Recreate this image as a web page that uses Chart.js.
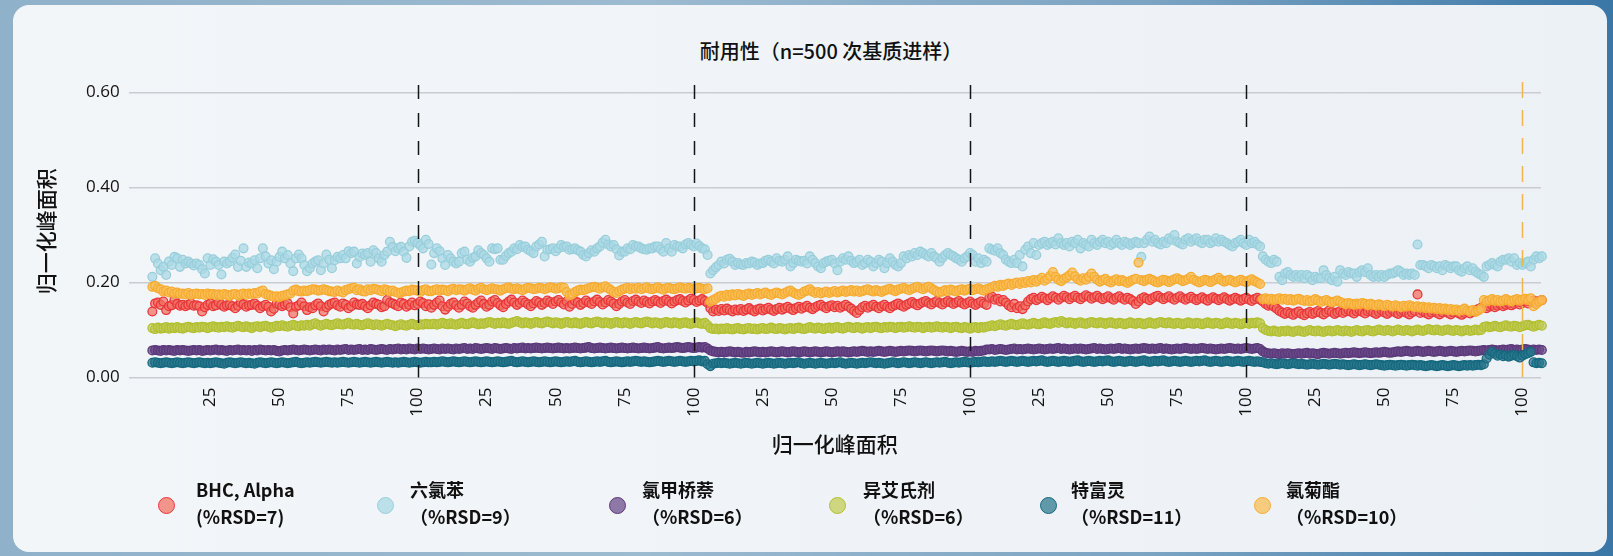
<!DOCTYPE html>
<html><head><meta charset="utf-8">
<script src="https://cdn.jsdelivr.net/npm/chart.js@4/dist/chart.umd.min.js"></script>
<style>
html,body{margin:0;padding:0;width:1613px;height:556px;overflow:hidden;}
body{position:relative;background:linear-gradient(90deg,#8fb1c9 0%,#9cbad0 40%,#7aa3c2 72%,#3a76a6 100%);font-family:"Noto Sans CJK SC","Noto Sans",sans-serif;}
#card{position:absolute;left:13px;top:5px;width:1594px;height:547px;border-radius:16px;background:linear-gradient(90deg,#f3f6f9 0%,#eff3f7 60%,#ecf1f6 100%);}
#title{position:absolute;left:581px;width:500px;top:37px;text-align:center;font-size:20px;font-weight:500;color:#111;line-height:28px;}
canvas{position:absolute;left:0;top:0;}
.lg{position:absolute;top:476px;color:#111;font-size:18px;font-weight:600;line-height:27px;white-space:nowrap;}
.dot{position:absolute;width:15px;height:15px;border-radius:50%;border:1.8px solid;top:497px;}
</style></head>
<body>
<div id="card"></div>
<div id="title">耐用性（n=500 次基质进样）</div>
<canvas id="c" width="1613" height="556"></canvas>
<div id="legend"></div>
<script>
const FIRST_INJECTION = 4;
const xTickValues = [25,50,75,100,125,150,175,200,225,250,275,300,325,350,375,400,425,450,475,500];
const xTickLabels = ['25','50','75','100','25','50','75','100','25','50','75','100','25','50','75','100','25','50','75','100'];
const yTickValues = [0,0.2,0.4,0.6];
const blockDividers = [100,200,300,400];
const endMarker = [500];
const seriesNames = ['BHC, Alpha','六氯苯','氯甲桥萘','异艾氏剂','特富灵','氯菊酯'];
const rsdLabels = ['(%RSD=7)','（%RSD=9）','（%RSD=6）','（%RSD=6）','（%RSD=11）','（%RSD=10）'];

const bhcAlpha = [
0.139,0.156,0.158,0.153,0.160,0.142,0.150,0.152,0.163,0.155,
0.151,0.153,0.150,0.153,0.156,0.151,0.152,0.150,0.139,0.148,
0.153,0.156,0.150,0.152,0.158,0.153,0.149,0.152,0.153,0.150,
0.146,0.151,0.158,0.154,0.149,0.152,0.153,0.156,0.151,0.146,
0.150,0.153,0.149,0.139,0.145,0.156,0.153,0.150,0.153,0.156,
0.148,0.135,0.149,0.152,0.158,0.150,0.142,0.148,0.146,0.152,
0.156,0.150,0.139,0.148,0.153,0.156,0.158,0.152,0.149,0.156,
0.153,0.146,0.150,0.158,0.154,0.153,0.155,0.150,0.146,0.152,
0.158,0.155,0.153,0.148,0.150,0.163,0.158,0.156,0.153,0.150,
0.158,0.155,0.149,0.153,0.158,0.152,0.155,0.160,0.157,0.150,
0.154,
0.147,0.153,0.158,0.162,0.150,0.143,0.149,0.155,0.158,0.152,
0.147,0.153,0.160,0.156,0.150,0.147,0.153,0.158,0.162,0.155,
0.149,0.153,0.160,0.163,0.157,0.152,0.148,0.155,0.160,0.164,
0.158,0.153,0.157,0.162,0.158,0.154,0.150,0.156,0.161,0.158,
0.153,0.157,0.162,0.159,0.155,0.160,0.163,0.158,0.154,0.160,
0.149,0.155,0.161,0.158,0.153,0.157,0.162,0.158,0.155,0.160,
0.164,0.159,0.154,0.158,0.163,0.160,0.156,0.150,0.155,0.160,
0.163,0.158,0.155,0.161,0.164,0.160,0.157,0.162,0.159,0.156,
0.160,0.163,0.160,0.157,0.161,0.164,0.160,0.156,0.160,0.163,
0.165,0.161,0.158,0.162,0.166,0.163,0.159,0.162,0.165,0.161,
0.157,
0.146,0.139,0.143,0.140,0.144,0.141,0.145,0.142,0.139,0.143,
0.141,0.144,0.140,0.143,0.146,0.142,0.139,0.143,0.145,0.141,
0.144,0.147,0.143,0.140,0.144,0.147,0.143,0.146,0.149,0.145,
0.142,0.146,0.149,0.145,0.148,0.151,0.147,0.144,0.148,0.151,
0.153,0.149,0.146,0.150,0.152,0.148,0.151,0.147,0.150,0.153,
0.149,0.145,0.140,0.136,0.142,0.148,0.151,0.147,0.150,0.153,
0.149,0.146,0.150,0.153,0.149,0.146,0.150,0.153,0.156,0.152,
0.149,0.153,0.156,0.159,0.155,0.152,0.156,0.159,0.161,0.157,
0.154,0.158,0.161,0.157,0.154,0.158,0.161,0.158,0.155,0.158,
0.161,0.157,0.154,0.157,0.160,0.156,0.153,0.157,0.160,0.156,
0.153,
0.168,0.170,0.164,0.166,0.160,0.163,0.158,0.152,0.148,0.155,
0.146,0.150,0.144,0.152,0.160,0.165,0.168,0.163,0.166,0.170,
0.167,0.163,0.167,0.171,0.168,0.164,0.168,0.172,0.169,0.165,
0.169,0.172,0.168,0.165,0.169,0.173,0.170,0.166,0.169,0.172,
0.168,0.165,0.168,0.171,0.167,0.164,0.168,0.171,0.167,0.164,
0.168,0.165,0.161,0.155,0.160,0.166,0.169,0.166,0.163,0.167,
0.170,0.172,0.168,0.165,0.168,0.171,0.167,0.164,0.168,0.171,
0.167,0.164,0.167,0.170,0.166,0.163,0.166,0.169,0.165,0.162,
0.166,0.169,0.166,0.163,0.166,0.169,0.165,0.162,0.165,0.168,
0.165,0.162,0.165,0.168,0.164,0.161,0.165,0.168,0.164,
0.160,0.155,0.151,0.153,0.149,0.145,0.140,0.137,0.134,0.138,
0.135,0.132,0.136,0.139,0.134,0.131,0.135,0.138,0.134,0.137,
0.140,0.136,0.133,0.137,0.141,0.138,0.134,0.137,0.140,0.136,
0.139,0.142,0.138,0.135,0.139,0.142,0.138,0.135,0.139,0.141,
0.137,0.134,0.138,0.141,0.137,0.134,0.138,0.141,0.137,0.134,
0.138,0.140,0.136,0.133,0.137,0.140,0.175,0.136,0.139,0.136,
0.133,0.137,0.140,0.136,0.133,0.137,0.140,0.136,0.133,0.137,
0.139,0.135,0.132,0.136,0.139,0.135,0.138,0.141,0.144,0.147,
0.150,0.146,0.149,0.152,0.148,0.151,0.154,0.150,0.153,0.156,
0.152,0.155,0.158,0.154,0.157,0.160,0.156,0.159,0.162,0.158,
0.161,0.163,0.160
];

const hexachlorobenzene = [
0.212,0.251,0.240,0.226,0.233,0.216,0.244,0.237,0.254,0.251,
0.233,0.248,0.240,0.244,0.240,0.236,0.240,0.237,0.228,0.219,
0.251,0.237,0.249,0.244,0.237,0.217,0.244,0.240,0.244,0.252,
0.259,0.233,0.246,0.272,0.233,0.242,0.240,0.247,0.230,0.251,
0.272,0.255,0.240,0.247,0.228,0.244,0.254,0.265,0.251,0.258,
0.240,0.224,0.251,0.259,0.251,0.237,0.224,0.230,0.240,0.244,
0.247,0.226,0.240,0.259,0.248,0.230,0.247,0.254,0.251,0.258,
0.251,0.266,0.262,0.265,0.240,0.254,0.261,0.258,0.262,0.244,
0.268,0.262,0.251,0.244,0.258,0.265,0.286,0.275,0.266,0.272,
0.275,0.265,0.252,0.276,0.286,0.288,0.283,0.278,0.272,0.290,
0.281,
0.238,0.262,0.272,0.266,0.251,0.237,0.258,0.251,0.244,0.240,
0.244,0.262,0.265,0.248,0.244,0.252,0.255,0.268,0.262,0.258,
0.251,0.244,0.272,0.270,0.272,0.248,0.248,0.256,0.262,0.265,
0.272,0.270,0.279,0.275,0.276,0.269,0.266,0.262,0.276,0.280,
0.286,0.255,0.269,0.270,0.272,0.266,0.272,0.279,0.275,0.276,
0.269,0.270,0.272,0.268,0.265,0.258,0.255,0.262,0.268,0.265,
0.272,0.276,0.284,0.290,0.280,0.276,0.279,0.270,0.257,0.265,
0.265,0.272,0.270,0.279,0.276,0.276,0.272,0.270,0.269,0.272,
0.272,0.276,0.276,0.270,0.265,0.283,0.272,0.265,0.279,0.276,
0.276,0.272,0.280,0.283,0.279,0.276,0.282,0.277,0.272,0.270,
0.258,
0.219,0.226,0.232,0.237,0.244,0.240,0.248,0.250,0.244,0.237,
0.241,0.238,0.237,0.241,0.240,0.244,0.242,0.237,0.240,0.241,
0.246,0.248,0.244,0.240,0.251,0.246,0.244,0.248,0.255,0.234,
0.241,0.248,0.246,0.244,0.246,0.240,0.255,0.248,0.241,0.234,
0.230,0.241,0.244,0.246,0.248,0.240,0.226,0.244,0.251,0.248,
0.255,0.246,0.241,0.244,0.248,0.237,0.241,0.248,0.244,0.234,
0.241,0.248,0.244,0.230,0.241,0.251,0.244,0.237,0.234,0.241,
0.255,0.251,0.258,0.255,0.262,0.258,0.265,0.262,0.258,0.255,
0.262,0.255,0.251,0.244,0.252,0.258,0.262,0.258,0.255,0.251,
0.248,0.244,0.251,0.255,0.262,0.258,0.244,0.251,0.241,0.248,
0.244,
0.272,0.269,0.267,0.272,0.262,0.258,0.248,0.244,0.241,0.248,
0.241,0.258,0.234,0.269,0.276,0.262,0.283,0.258,0.279,0.283,
0.286,0.279,0.283,0.286,0.280,0.293,0.283,0.279,0.283,0.276,
0.286,0.283,0.290,0.272,0.283,0.279,0.276,0.290,0.283,0.279,
0.286,0.290,0.283,0.286,0.279,0.283,0.290,0.283,0.279,0.286,
0.283,0.279,0.283,0.286,0.283,0.254,0.283,0.290,0.297,0.286,
0.290,0.283,0.280,0.286,0.283,0.293,0.290,0.300,0.286,0.283,
0.280,0.290,0.293,0.286,0.290,0.293,0.286,0.283,0.290,0.290,
0.283,0.286,0.293,0.286,0.290,0.286,0.283,0.279,0.276,0.283,
0.286,0.290,0.283,0.279,0.290,0.283,0.286,0.280,0.276,
0.255,0.248,0.244,0.241,0.248,0.244,0.212,0.205,0.219,0.222,
0.216,0.212,0.216,0.212,0.216,0.209,0.216,0.212,0.205,0.212,
0.209,0.209,0.226,0.216,0.209,0.205,0.212,0.202,0.226,0.219,
0.216,0.222,0.219,0.219,0.212,0.222,0.226,0.222,0.230,0.216,
0.212,0.216,0.212,0.216,0.212,0.216,0.219,0.219,0.222,0.226,
0.222,0.216,0.219,0.216,0.219,0.216,0.280,0.237,0.237,0.234,
0.230,0.237,0.234,0.230,0.234,0.226,0.237,0.234,0.230,0.234,
0.234,0.226,0.223,0.230,0.234,0.226,0.230,0.223,0.219,0.216,
0.212,0.234,0.237,0.241,0.237,0.234,0.244,0.248,0.248,0.251,
0.244,0.251,0.237,0.241,0.237,0.241,0.244,0.234,0.248,0.255,
0.251,0.255,0.258
];

const heptachlor = [
0.057,0.058,0.057,0.056,0.058,0.057,0.058,0.057,0.056,0.058,
0.057,0.058,0.057,0.056,0.057,0.058,0.057,0.058,0.056,0.057,
0.058,0.057,0.058,0.059,0.057,0.058,0.057,0.056,0.058,0.057,
0.058,0.059,0.057,0.058,0.057,0.058,0.056,0.058,0.057,0.059,
0.058,0.057,0.058,0.057,0.058,0.056,0.055,0.057,0.058,0.057,
0.058,0.059,0.058,0.057,0.058,0.059,0.058,0.057,0.058,0.059,
0.058,0.057,0.059,0.058,0.059,0.058,0.057,0.059,0.058,0.059,
0.060,0.058,0.059,0.058,0.059,0.060,0.058,0.059,0.058,0.060,
0.059,0.058,0.059,0.060,0.059,0.058,0.060,0.059,0.060,0.061,
0.059,0.060,0.059,0.061,0.060,0.059,0.061,0.060,0.061,0.060,
0.059,
0.060,0.061,0.060,0.059,0.061,0.060,0.061,0.060,0.059,0.061,
0.060,0.061,0.062,0.060,0.061,0.060,0.062,0.061,0.060,0.061,
0.062,0.061,0.060,0.062,0.061,0.060,0.061,0.062,0.061,0.060,
0.062,0.061,0.062,0.063,0.061,0.062,0.061,0.062,0.063,0.062,
0.061,0.062,0.063,0.062,0.061,0.062,0.063,0.062,0.061,0.062,
0.061,0.062,0.063,0.062,0.061,0.062,0.063,0.064,0.062,0.061,
0.062,0.063,0.062,0.061,0.062,0.063,0.062,0.061,0.062,0.063,
0.062,0.061,0.062,0.063,0.062,0.061,0.062,0.063,0.062,0.061,
0.062,0.063,0.064,0.062,0.061,0.062,0.063,0.062,0.063,0.064,
0.063,0.062,0.063,0.064,0.063,0.062,0.063,0.064,0.063,0.064,
0.061,
0.057,0.055,0.054,0.053,0.054,0.053,0.054,0.055,0.054,0.053,
0.054,0.053,0.052,0.054,0.053,0.054,0.055,0.054,0.053,0.054,
0.053,0.054,0.055,0.054,0.053,0.054,0.055,0.054,0.053,0.054,
0.055,0.054,0.053,0.054,0.055,0.054,0.053,0.054,0.055,0.054,
0.053,0.054,0.055,0.054,0.053,0.054,0.055,0.054,0.055,0.054,
0.053,0.054,0.055,0.054,0.055,0.056,0.055,0.054,0.055,0.054,
0.055,0.056,0.055,0.054,0.055,0.056,0.055,0.054,0.055,0.056,
0.055,0.056,0.057,0.056,0.055,0.056,0.057,0.056,0.055,0.056,
0.057,0.056,0.055,0.056,0.057,0.056,0.055,0.056,0.055,0.054,
0.055,0.056,0.055,0.054,0.055,0.054,0.056,0.055,0.056,0.057,
0.059,
0.059,0.060,0.058,0.059,0.060,0.059,0.058,0.059,0.060,0.061,
0.059,0.060,0.059,0.060,0.061,0.060,0.059,0.060,0.061,0.060,
0.059,0.060,0.061,0.060,0.061,0.062,0.060,0.061,0.060,0.059,
0.060,0.061,0.060,0.061,0.060,0.059,0.060,0.061,0.062,0.060,
0.061,0.060,0.059,0.060,0.061,0.060,0.061,0.062,0.060,0.061,
0.060,0.059,0.060,0.061,0.060,0.061,0.062,0.061,0.060,0.061,
0.060,0.061,0.062,0.060,0.061,0.060,0.059,0.060,0.061,0.060,
0.061,0.062,0.061,0.060,0.061,0.060,0.061,0.062,0.061,0.060,
0.061,0.060,0.059,0.060,0.061,0.060,0.061,0.062,0.061,0.060,
0.061,0.060,0.061,0.062,0.061,0.060,0.061,0.062,0.060,
0.055,0.052,0.051,0.050,0.051,0.050,0.049,0.051,0.050,0.051,
0.050,0.049,0.050,0.051,0.050,0.051,0.052,0.050,0.051,0.050,
0.049,0.051,0.052,0.051,0.050,0.051,0.052,0.051,0.050,0.051,
0.052,0.051,0.052,0.053,0.052,0.051,0.052,0.053,0.052,0.051,
0.052,0.053,0.052,0.053,0.054,0.053,0.052,0.053,0.054,0.055,
0.054,0.055,0.056,0.055,0.054,0.055,0.056,0.055,0.054,0.055,
0.056,0.055,0.054,0.055,0.056,0.055,0.054,0.055,0.056,0.055,
0.054,0.055,0.056,0.055,0.056,0.057,0.056,0.055,0.056,0.057,
0.058,0.057,0.058,0.059,0.058,0.057,0.058,0.059,0.058,0.059,
0.060,0.058,0.059,0.058,0.059,0.060,0.059,0.058,0.059,0.058,
0.059,0.058,0.057
];

const isodrin = [
0.104,0.102,0.105,0.103,0.104,0.106,0.103,0.105,0.104,0.106,
0.104,0.103,0.105,0.107,0.105,0.104,0.106,0.105,0.107,0.106,
0.104,0.106,0.108,0.106,0.105,0.107,0.106,0.108,0.106,0.105,
0.107,0.109,0.107,0.106,0.108,0.106,0.104,0.107,0.108,0.106,
0.108,0.109,0.107,0.105,0.107,0.109,0.108,0.110,0.108,0.107,
0.109,0.111,0.109,0.108,0.110,0.109,0.111,0.109,0.112,0.114,
0.111,0.109,0.111,0.113,0.111,0.110,0.112,0.114,0.112,0.111,
0.113,0.115,0.112,0.111,0.113,0.111,0.110,0.112,0.114,0.112,
0.110,0.112,0.111,0.109,0.111,0.113,0.111,0.110,0.108,0.110,
0.112,0.110,0.109,0.111,0.113,0.111,0.110,0.112,0.111,0.113,
0.112,
0.112,0.113,0.111,0.113,0.115,0.113,0.112,0.114,0.112,0.111,
0.113,0.115,0.113,0.112,0.114,0.116,0.114,0.112,0.114,0.113,
0.115,0.117,0.115,0.113,0.115,0.114,0.116,0.114,0.113,0.115,
0.117,0.119,0.116,0.114,0.116,0.115,0.113,0.115,0.117,0.115,
0.114,0.116,0.118,0.116,0.114,0.116,0.115,0.113,0.115,0.117,
0.115,0.114,0.116,0.114,0.113,0.115,0.117,0.115,0.114,0.116,
0.118,0.116,0.114,0.116,0.115,0.113,0.115,0.117,0.115,0.114,
0.116,0.115,0.113,0.115,0.117,0.115,0.114,0.116,0.118,0.116,
0.114,0.116,0.115,0.113,0.115,0.117,0.115,0.114,0.116,0.115,
0.113,0.115,0.116,0.114,0.113,0.115,0.116,0.114,0.113,0.115,
0.110,
0.104,0.102,0.103,0.101,0.103,0.102,0.104,0.102,0.101,0.103,
0.104,0.102,0.101,0.103,0.104,0.102,0.103,0.101,0.103,0.104,
0.102,0.103,0.105,0.103,0.102,0.104,0.103,0.101,0.103,0.104,
0.102,0.104,0.105,0.103,0.102,0.104,0.106,0.104,0.103,0.105,
0.104,0.102,0.104,0.105,0.103,0.105,0.106,0.104,0.103,0.105,
0.107,0.105,0.104,0.106,0.105,0.103,0.105,0.106,0.104,0.106,
0.107,0.105,0.104,0.106,0.105,0.107,0.106,0.104,0.106,0.107,
0.105,0.106,0.108,0.106,0.105,0.107,0.106,0.104,0.106,0.107,
0.105,0.106,0.108,0.106,0.105,0.107,0.106,0.104,0.106,0.107,
0.105,0.104,0.106,0.105,0.103,0.105,0.106,0.104,0.106,0.105,
0.107,
0.108,0.110,0.108,0.110,0.112,0.110,0.109,0.111,0.113,0.111,
0.110,0.112,0.114,0.112,0.111,0.113,0.115,0.113,0.112,0.114,
0.116,0.114,0.113,0.115,0.117,0.115,0.119,0.116,0.114,0.116,
0.115,0.113,0.115,0.116,0.114,0.113,0.115,0.117,0.115,0.114,
0.116,0.115,0.113,0.115,0.116,0.114,0.113,0.115,0.114,0.112,
0.114,0.116,0.114,0.113,0.115,0.114,0.112,0.114,0.116,0.114,
0.113,0.115,0.117,0.115,0.114,0.116,0.114,0.113,0.115,0.114,
0.112,0.114,0.116,0.114,0.113,0.115,0.114,0.112,0.114,0.116,
0.114,0.113,0.115,0.114,0.112,0.114,0.116,0.114,0.113,0.115,
0.114,0.112,0.114,0.115,0.113,0.115,0.114,0.116,0.114,
0.104,0.100,0.098,0.097,0.099,0.097,0.096,0.098,0.097,0.099,
0.097,0.096,0.098,0.099,0.097,0.096,0.098,0.100,0.098,0.097,
0.099,0.097,0.096,0.098,0.099,0.097,0.098,0.100,0.098,0.097,
0.099,0.098,0.096,0.098,0.100,0.098,0.097,0.099,0.100,0.098,
0.097,0.099,0.101,0.099,0.098,0.100,0.099,0.097,0.099,0.101,
0.099,0.098,0.100,0.099,0.097,0.099,0.101,0.099,0.098,0.100,
0.102,0.100,0.099,0.101,0.099,0.098,0.100,0.101,0.099,0.098,
0.100,0.099,0.097,0.099,0.100,0.098,0.099,0.101,0.099,0.100,
0.106,0.108,0.106,0.107,0.109,0.107,0.106,0.108,0.110,0.108,
0.107,0.109,0.108,0.106,0.108,0.110,0.111,0.109,0.107,0.109,
0.111,0.109,0.108
];

const triflumizole = [
0.031,0.032,0.031,0.030,0.031,0.032,0.031,0.030,0.031,0.032,
0.031,0.030,0.031,0.032,0.031,0.030,0.031,0.032,0.031,0.030,
0.031,0.030,0.031,0.032,0.031,0.030,0.029,0.031,0.032,0.031,
0.030,0.031,0.032,0.031,0.030,0.031,0.030,0.029,0.031,0.032,
0.031,0.030,0.031,0.032,0.031,0.030,0.031,0.032,0.031,0.030,
0.031,0.032,0.033,0.031,0.030,0.031,0.032,0.031,0.032,0.033,
0.032,0.031,0.032,0.033,0.032,0.031,0.032,0.031,0.032,0.033,
0.032,0.031,0.032,0.033,0.032,0.031,0.032,0.033,0.032,0.031,
0.032,0.033,0.032,0.031,0.032,0.033,0.032,0.031,0.032,0.031,
0.032,0.033,0.032,0.031,0.032,0.033,0.032,0.031,0.032,0.033,
0.032,
0.032,0.033,0.032,0.033,0.034,0.033,0.032,0.033,0.034,0.033,
0.032,0.033,0.034,0.033,0.032,0.033,0.034,0.033,0.032,0.033,
0.034,0.033,0.032,0.033,0.034,0.033,0.032,0.033,0.034,0.035,
0.033,0.032,0.033,0.034,0.033,0.032,0.033,0.034,0.033,0.032,
0.033,0.034,0.033,0.032,0.033,0.034,0.033,0.032,0.033,0.034,
0.033,0.034,0.035,0.033,0.032,0.033,0.034,0.033,0.032,0.033,
0.034,0.033,0.034,0.035,0.033,0.032,0.033,0.034,0.033,0.032,
0.033,0.034,0.033,0.034,0.035,0.034,0.033,0.034,0.033,0.032,
0.033,0.034,0.035,0.034,0.033,0.034,0.035,0.034,0.033,0.034,
0.035,0.034,0.033,0.034,0.035,0.034,0.035,0.036,0.034,0.035,
0.028,
0.024,0.029,0.030,0.031,0.030,0.031,0.030,0.029,0.030,0.031,
0.030,0.029,0.030,0.031,0.030,0.029,0.030,0.031,0.030,0.029,
0.030,0.031,0.030,0.029,0.030,0.031,0.030,0.029,0.030,0.031,
0.030,0.031,0.032,0.030,0.029,0.030,0.031,0.030,0.029,0.030,
0.031,0.030,0.029,0.030,0.031,0.030,0.031,0.032,0.030,0.029,
0.030,0.031,0.030,0.029,0.030,0.031,0.030,0.031,0.032,0.031,
0.030,0.031,0.030,0.029,0.030,0.031,0.032,0.031,0.030,0.031,
0.032,0.031,0.030,0.031,0.032,0.031,0.030,0.031,0.032,0.031,
0.030,0.031,0.032,0.031,0.032,0.033,0.031,0.030,0.031,0.032,
0.031,0.032,0.033,0.032,0.031,0.032,0.033,0.032,0.033,0.034,
0.033,
0.033,0.034,0.033,0.034,0.035,0.034,0.033,0.034,0.035,0.034,
0.033,0.034,0.035,0.034,0.033,0.034,0.035,0.034,0.035,0.036,
0.034,0.033,0.034,0.035,0.034,0.033,0.034,0.035,0.034,0.033,
0.034,0.035,0.036,0.034,0.033,0.034,0.035,0.034,0.033,0.034,
0.035,0.034,0.035,0.036,0.034,0.033,0.034,0.035,0.034,0.033,
0.034,0.035,0.034,0.033,0.034,0.035,0.036,0.034,0.033,0.034,
0.035,0.034,0.035,0.036,0.034,0.033,0.034,0.035,0.034,0.033,
0.034,0.035,0.034,0.033,0.034,0.035,0.034,0.035,0.036,0.034,
0.033,0.034,0.035,0.034,0.033,0.034,0.035,0.034,0.033,0.034,
0.035,0.034,0.033,0.034,0.035,0.034,0.033,0.034,0.033,
0.032,0.030,0.029,0.030,0.029,0.028,0.029,0.030,0.029,0.028,
0.029,0.030,0.029,0.028,0.029,0.028,0.027,0.028,0.029,0.028,
0.027,0.028,0.029,0.028,0.027,0.028,0.029,0.028,0.027,0.028,
0.027,0.026,0.027,0.028,0.027,0.026,0.027,0.028,0.027,0.026,
0.027,0.028,0.027,0.026,0.025,0.026,0.027,0.026,0.025,0.026,
0.027,0.026,0.025,0.026,0.027,0.026,0.025,0.026,0.025,0.024,
0.025,0.026,0.025,0.024,0.025,0.026,0.025,0.024,0.025,0.026,
0.025,0.024,0.025,0.026,0.025,0.026,0.025,0.026,0.027,0.026,
0.028,0.040,0.048,0.054,0.050,0.046,0.048,0.045,0.047,0.044,
0.046,0.048,0.045,0.042,0.046,0.049,0.051,0.054,0.032,0.030,
0.031,0.030,0.031
];

const permethrin = [
0.191,0.193,0.188,0.186,0.181,0.183,0.179,0.181,0.177,0.179,
0.176,0.177,0.175,0.178,0.174,0.176,0.177,0.175,0.176,0.174,
0.177,0.175,0.176,0.174,0.175,0.173,0.176,0.174,0.172,0.175,
0.176,0.173,0.175,0.177,0.174,0.177,0.176,0.178,0.177,0.181,
0.183,0.176,0.174,0.172,0.170,0.171,0.169,0.172,0.173,0.175,
0.177,0.183,0.185,0.182,0.181,0.183,0.182,0.184,0.186,0.185,
0.183,0.184,0.186,0.184,0.182,0.181,0.180,0.183,0.181,0.179,
0.184,0.186,0.188,0.189,0.184,0.186,0.182,0.181,0.186,0.184,
0.187,0.186,0.184,0.182,0.186,0.184,0.181,0.183,0.180,0.178,
0.179,0.181,0.183,0.182,0.185,0.184,0.183,0.180,0.184,0.186,
0.182,
0.182,0.184,0.186,0.183,0.185,0.184,0.182,0.185,0.187,0.184,
0.186,0.185,0.183,0.186,0.188,0.185,0.183,0.187,0.189,0.186,
0.184,0.186,0.188,0.186,0.185,0.183,0.186,0.188,0.190,0.187,
0.186,0.188,0.186,0.184,0.187,0.189,0.188,0.186,0.187,0.189,
0.188,0.186,0.188,0.190,0.189,0.187,0.188,0.190,0.189,0.180,
0.173,0.176,0.180,0.183,0.185,0.184,0.186,0.188,0.190,0.191,
0.189,0.187,0.190,0.192,0.188,0.184,0.180,0.178,0.182,0.185,
0.187,0.189,0.186,0.188,0.187,0.189,0.186,0.188,0.190,0.187,
0.186,0.188,0.190,0.187,0.185,0.188,0.189,0.187,0.186,0.188,
0.190,0.188,0.187,0.189,0.188,0.186,0.188,0.189,0.187,0.186,
0.188,
0.160,0.163,0.166,0.170,0.172,0.170,0.174,0.172,0.175,0.173,
0.176,0.174,0.172,0.175,0.177,0.174,0.176,0.178,0.175,0.177,
0.179,0.176,0.174,0.177,0.179,0.177,0.175,0.178,0.181,0.183,
0.179,0.176,0.174,0.177,0.181,0.183,0.186,0.181,0.178,0.180,
0.177,0.179,0.181,0.178,0.180,0.182,0.179,0.181,0.183,0.180,
0.182,0.184,0.181,0.183,0.180,0.182,0.184,0.186,0.183,0.181,
0.184,0.182,0.180,0.183,0.185,0.187,0.184,0.182,0.185,0.187,
0.189,0.186,0.184,0.187,0.189,0.191,0.188,0.186,0.189,0.191,
0.188,0.184,0.181,0.179,0.181,0.184,0.182,0.185,0.183,0.181,
0.184,0.186,0.183,0.185,0.187,0.184,0.186,0.188,0.185,0.183,
0.186,
0.188,0.190,0.193,0.191,0.195,0.193,0.196,0.198,0.195,0.198,
0.200,0.197,0.201,0.199,0.203,0.200,0.205,0.202,0.206,0.210,
0.204,0.208,0.214,0.222,0.212,0.206,0.203,0.208,0.211,0.215,
0.221,0.213,0.207,0.204,0.209,0.206,0.212,0.219,0.212,0.206,
0.202,0.205,0.208,0.203,0.200,0.204,0.207,0.203,0.205,0.202,
0.199,0.203,0.206,0.208,0.242,0.205,0.203,0.206,0.208,0.205,
0.202,0.200,0.203,0.206,0.204,0.201,0.204,0.207,0.209,0.206,
0.203,0.205,0.208,0.212,0.206,0.203,0.200,0.203,0.206,0.204,
0.201,0.204,0.207,0.210,0.205,0.202,0.204,0.206,0.203,0.200,
0.203,0.206,0.203,0.201,0.204,0.207,0.203,0.200,0.197,
0.165,0.167,0.164,0.166,0.163,0.165,0.167,0.164,0.166,0.163,
0.165,0.162,0.164,0.166,0.163,0.161,0.163,0.160,0.162,0.165,
0.162,0.159,0.161,0.163,0.160,0.158,0.160,0.162,0.159,0.157,
0.154,0.157,0.155,0.153,0.156,0.154,0.157,0.155,0.152,0.155,
0.153,0.151,0.154,0.152,0.150,0.153,0.151,0.149,0.152,0.150,
0.148,0.151,0.149,0.152,0.150,0.148,0.150,0.147,0.149,0.146,
0.148,0.145,0.147,0.144,0.146,0.143,0.145,0.142,0.144,0.141,
0.143,0.140,0.142,0.145,0.141,0.139,0.142,0.138,0.141,0.145,
0.163,0.160,0.162,0.165,0.161,0.163,0.160,0.162,0.165,0.162,
0.160,0.163,0.165,0.162,0.164,0.166,0.163,0.167,0.150,0.155,
0.160,0.163,0.168
];

const seriesValues = [bhcAlpha, hexachlorobenzene, heptachlor, isodrin, triflumizole, permethrin];
const seriesBorder = ['#e8353a','#98cedb','#5a3879','#b1bf30','#15687e','#f6ab30'];
const seriesFill = ['rgba(242,110,95,0.72)','rgba(170,216,228,0.75)','rgba(104,72,136,0.72)','rgba(192,203,82,0.72)','rgba(40,118,140,0.72)','rgba(250,190,85,0.75)'];
const drawOrder = [6,5,4,3,2,1];

Chart.defaults.font.family = "'Open Sans','Noto Sans CJK SC',sans-serif";
Chart.defaults.color = '#111';

const datasets = seriesValues.map((vals, k) => ({
  label: seriesNames[k],
  data: vals.map((v, i) => ({x: FIRST_INJECTION + i, y: v})),
  backgroundColor: seriesFill[k],
  borderColor: seriesBorder[k],
  borderWidth: 1.3,
  pointRadius: 4.4,
  order: drawOrder[k],
  clip: false
}));

const dividerPlugin = {
  id: 'dividers',
  afterDatasetsDraw(chart) {
    const {ctx, chartArea, scales} = chart;
    const x = scales.x, y = scales.y;
    const top = chartArea.top, bottom = y.getPixelForValue(0);
    ctx.save();
    ctx.lineWidth = 1.5;
    ctx.strokeStyle = '#151515';
    ctx.setLineDash([14, 14]);
    blockDividers.forEach(v => {
      const px = Math.round(x.getPixelForValue(v)) + 0.5;
      ctx.beginPath(); ctx.moveTo(px, top); ctx.lineTo(px, bottom); ctx.stroke();
    });
    ctx.strokeStyle = '#f3b646';
    ctx.setLineDash([16, 12]);
    endMarker.forEach(v => {
      const px = Math.round(x.getPixelForValue(v)) + 0.5;
      ctx.beginPath(); ctx.moveTo(px, top - 3); ctx.lineTo(px, bottom); ctx.stroke();
    });
    ctx.restore();
  }
};

new Chart(document.getElementById('c'), {
  type: 'scatter',
  data: {datasets},
  options: {
    responsive: false,
    animation: false,
    events: [],
    layout: {padding: {top: 85, right: 72, bottom: 98.5, left: 0}},
    plugins: {legend: {display: false}, tooltip: {enabled: false}, title: {display: false}},
    scales: {
      x: {
        type: 'linear', min: -4.6, max: 506.7,
        grid: {display: false, drawTicks: false},
        border: {display: false},
        afterBuildTicks: s => { s.ticks = xTickValues.map(v => ({value: v})); },
        ticks: {autoSkip: false, minRotation: 90, maxRotation: 90, padding: 10,
          font: {size: 17}, color: '#111',
          callback: (v, i) => xTickLabels[i]},
        title: {display: true, text: '归一化峰面积', color: '#111',
          font: {family: "'Noto Sans CJK SC',sans-serif", size: 21, weight: '500'},
          padding: {top: 0, bottom: 1}},
        afterFit: s => { s.height = 80; }
      },
      y: {
        min: 0, max: 0.616,
        afterBuildTicks: s => { s.ticks = yTickValues.map(v => ({value: v})); },
        grid: {color: '#c9cdd1', lineWidth: 1.5, drawTicks: false},
        border: {display: false},
        ticks: {padding: 9, font: {size: 17}, color: '#111', callback: v => Number(v).toFixed(2)},
        title: {display: true, text: '归一化峰面积', color: '#111',
          font: {family: "'Noto Sans CJK SC',sans-serif", size: 21, weight: '500'},
          padding: {top: 33, bottom: 0}},
        afterFit: s => { s.width = 128.6; }
      }
    }
  },
  plugins: [dividerPlugin]
});

// HTML legend built from the series names
const dotX = [167, 386, 618, 838, 1049, 1263];
const textX = [196, 410, 642, 863, 1071, 1286];
const legend = document.getElementById('legend');
seriesNames.forEach((name, k) => {
  const d = document.createElement('div');
  d.className = 'dot';
  d.style.left = (dotX[k] - 9.3) + 'px';
  d.style.borderColor = seriesBorder[k];
  d.style.background = seriesFill[k];
  legend.appendChild(d);
  const t = document.createElement('div');
  t.className = 'lg';
  t.style.left = textX[k] + 'px';
  t.innerHTML = name + '<br>' + rsdLabels[k];
  legend.appendChild(t);
});

const bad = seriesValues.map((a, k) => a.length !== 505 ? seriesNames[k] + ':' + a.length : null).filter(Boolean);
if (bad.length) { setTimeout(() => { throw new Error('length mismatch ' + bad.join(',')); }, 0); }
</script>
</body></html>
